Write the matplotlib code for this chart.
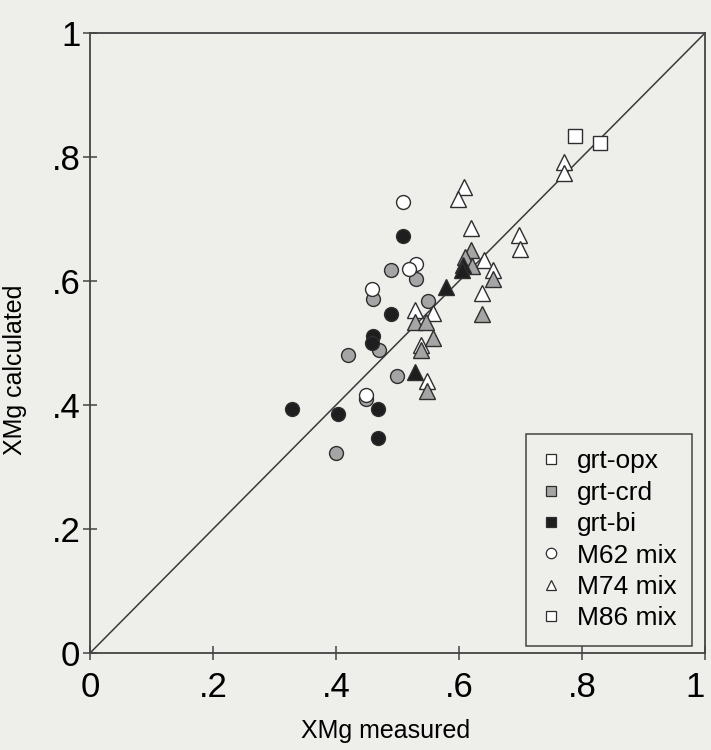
import matplotlib.pyplot as plt
from matplotlib.lines import Line2D

plt.rcParams['font.family'] = ['Liberation Sans', 'DejaVu Sans']

# 색/모양 규칙: 모양 = 시료 (원 M62, 삼각형 M74, 사각형 M86), 채움 = 방법
# 흰색 grt-opx, 회색 grt-crd, 검정 grt-bi

# M62 mix (circle)
m62_opx_x = [0.509, 0.530, 0.519, 0.459, 0.449]
m62_opx_y = [0.727, 0.627, 0.620, 0.587, 0.416]
m62_crd_x = [0.489, 0.530, 0.460, 0.549, 0.470, 0.419, 0.499, 0.449, 0.400]
m62_crd_y = [0.617, 0.603, 0.571, 0.567, 0.489, 0.481, 0.447, 0.409, 0.322]
m62_bi_x = [0.509, 0.489, 0.460, 0.459, 0.329, 0.404, 0.469, 0.469]
m62_bi_y = [0.673, 0.547, 0.512, 0.500, 0.394, 0.386, 0.394, 0.346]

# M74 mix (triangle)
m74_opx_x = [0.608, 0.599, 0.619, 0.770, 0.771, 0.698, 0.699, 0.640, 0.656,
             0.638, 0.528, 0.558, 0.538, 0.548]
m74_opx_y = [0.752, 0.732, 0.685, 0.792, 0.774, 0.674, 0.652, 0.634, 0.618,
             0.580, 0.553, 0.548, 0.497, 0.438]
m74_crd_x = [0.619, 0.610, 0.621, 0.656, 0.638, 0.528, 0.546, 0.557, 0.538, 0.548]
m74_crd_y = [0.650, 0.639, 0.624, 0.603, 0.546, 0.534, 0.534, 0.508, 0.489, 0.422]
m74_bi_x = [0.607, 0.605, 0.579, 0.528]
m74_bi_y = [0.626, 0.618, 0.591, 0.454]

# M86 mix (square)
m86_opx_x = [0.789, 0.829]
m86_opx_y = [0.834, 0.823]

ticks = [0, 0.2, 0.4, 0.6, 0.8, 1]
tick_labels = ['0', '.2', '.4', '.6', '.8', '1']

paper = '#eeeeea'
edge = '#2e2e2e'
fills = {'opx': 'white', 'crd': '#a5a5a5', 'bi': '#1e1e1e'}

fig = plt.figure(figsize=(7.11, 7.5), dpi=100, facecolor=paper)
ax = fig.add_axes([0.1266, 0.1293, 0.865, 0.8267], facecolor=paper)

ax.plot([0, 1], [0, 1], color='#3a3a3a', lw=1.1, zorder=1)

groups = [
    (m62_crd_x, m62_crd_y, 'o', 'crd', 10),
    (m62_bi_x, m62_bi_y, 'o', 'bi', 10),
    (m62_opx_x, m62_opx_y, 'o', 'opx', 10),
    (m74_opx_x, m74_opx_y, '^', 'opx', 11.5),
    (m74_crd_x, m74_crd_y, '^', 'crd', 11.5),
    (m74_bi_x, m74_bi_y, '^', 'bi', 11.5),
    (m86_opx_x, m86_opx_y, 's', 'opx', 10),
]
for xs, ys, mk, kind, ms in groups:
    ax.plot(xs, ys, linestyle='none', marker=mk, markersize=ms,
            markerfacecolor=fills[kind], markeredgecolor=edge,
            markeredgewidth=1.0, zorder=3)

ax.set_xlim(0, 1)
ax.set_ylim(0, 1)
ax.set_xticks(ticks)
ax.set_xticklabels(tick_labels)
ax.set_yticks(ticks)
ax.set_yticklabels(tick_labels)
ax.tick_params(direction='inout', length=10, width=1.1, color='#444444',
               labelsize=25, pad=8)
ax.tick_params(axis='y', pad=2)
# 오른쪽 끝 "1" 이 잘리지 않게
ax.get_xticklabels()[-1].set_horizontalalignment('right')
for sp in ax.spines.values():
    sp.set_color('#444444')
    sp.set_linewidth(1.3)

ax.set_xlabel('XMg measured', fontsize=18)
ax.set_ylabel('XMg calculated', fontsize=18)
ax.xaxis.set_label_coords(0.48, -0.106)
ax.yaxis.set_label_coords(-0.103, 0.456)

def handle(mk, kind, label):
    return Line2D([], [], linestyle='none', marker=mk, markersize=7.5,
                  markerfacecolor=fills[kind], markeredgecolor=edge,
                  markeredgewidth=0.9, label=label)

handles = [
    handle('s', 'opx', 'grt-opx'),
    handle('s', 'crd', 'grt-crd'),
    handle('s', 'bi', 'grt-bi'),
    handle('o', 'opx', 'M62 mix'),
    handle('^', 'opx', 'M74 mix'),
    handle('s', 'opx', 'M86 mix'),
]
leg = ax.legend(handles=handles, loc='lower right', bbox_to_anchor=(0.979, 0.011),
                fontsize=19, frameon=True, fancybox=False, framealpha=1,
                facecolor=paper, edgecolor='#444444', handlelength=0.7,
                handletextpad=0.6, labelspacing=0.28, borderpad=0.6,
                borderaxespad=0)
leg.get_frame().set_linewidth(1.1)

fig.savefig('out.png', dpi=100, facecolor=paper)
